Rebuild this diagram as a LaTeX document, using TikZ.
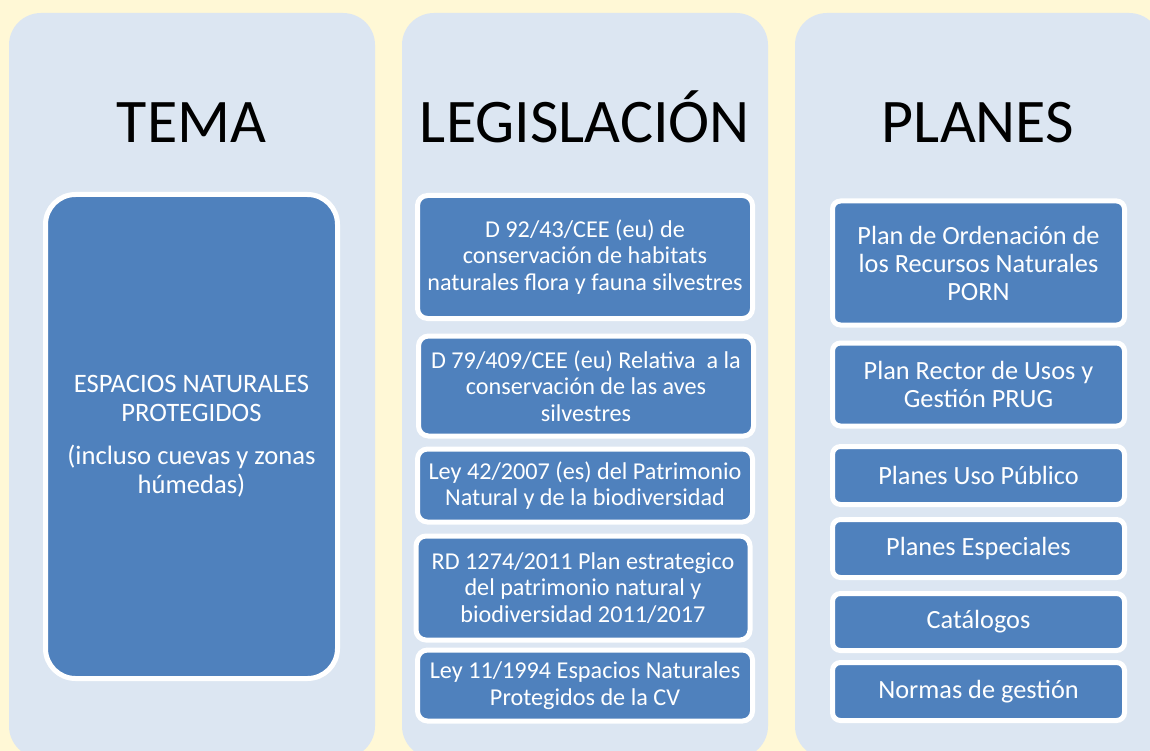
\documentclass[tikz,border=0pt]{standalone}
\usepackage{fontspec}
\setmainfont{Carlito}
\usepackage{tikz}
\usepackage{xcolor}

\definecolor{fondo}{HTML}{FFF8D6}
\definecolor{panel}{HTML}{DCE6F2}
\definecolor{caja}{HTML}{4F81BD}

\begin{document}
\begin{tikzpicture}[x=1pt,y=-1pt]
            \tikzstyle{panelbox}=[fill=panel, rounded corners=32pt, minimum width=366pt, minimum height=745pt, inner sep=0pt]
            \tikzstyle{titulo}=[anchor=base, font=\fontsize{62}{70}\selectfont, inner sep=0pt]
            \tikzstyle{leybox}=[draw=white, line width=5pt, fill=caja, text=white, rounded corners=10pt, align=center, minimum width=335pt, inner sep=0pt, font=\fontsize{24.2}{26.5}\selectfont]
            \tikzstyle{planbox}=[leybox, rounded corners=8pt, minimum width=292pt, font=\fontsize{26.3}{28}\selectfont]
            \useasboundingbox (0,0) rectangle (1150,751);
            \clip (0,0) rectangle (1150,751);
            \fill [fondo] (0,0) rectangle (1150,751);
            % Columnas
            \node [panelbox] (pa) at (192,385.5) {};
            \node [panelbox] (pb) at (585,385.5) {};
            \node [panelbox] (pc) at (978,385.5) {};
            \node [titulo] (tema) at (191.5,143) {TEMA};
            \node [titulo] (leg) at (585,143) {LEGISLACIÓN};
            \node [titulo] (plan) at (978,143) {PLANES};
            % Tema
            \node [leybox, rounded corners=30pt, minimum width=292pt, minimum height=484pt, font=\fontsize{26.6}{29}\selectfont] (t1) at (191.5,436.5)
                {ESPACIOS NATURALES\\PROTEGIDOS\\[14pt](incluso cuevas y zonas\\húmedas)};
            % Legislacion
            \node [leybox, minimum height=123pt] (l1) at (585,257)
                {D 92/43/CEE (eu) de\\conservación de habitats\\naturales flora y fauna silvestres};
            \node [leybox, minimum height=100pt] (l2) at (586,386)
                {D 79/409/CEE (eu) Relativa\ \ a la\\conservación de las aves\\silvestres};
            \node [leybox, minimum height=73pt] (l3) at (585,485.5)
                {Ley 42/2007 (es) del Patrimonio\\Natural y de la biodiversidad};
            \node [leybox, minimum width=334pt, minimum height=104pt] (l4) at (583,588)
                {RD 1274/2011 Plan estrategico\\del patrimonio natural y\\biodiversidad 2011/2017};
            \node [leybox, minimum height=71pt] (l5) at (585,685.5)
                {Ley 11/1994 Espacios Naturales\\Protegidos de la CV};
            % Planes
            \node [planbox, minimum height=124pt] (p1) at (978.5,263)
                {Plan de Ordenación de\\los Recursos Naturales\\PORN};
            \node [planbox, minimum height=83pt] (p2) at (978.5,384.5)
                {Plan Rector de Usos y\\Gestión PRUG};
            \node [planbox, minimum height=58pt] (p3) at (978.5,475.5) {Planes Uso Público};
            \node [planbox, minimum height=58pt] (p4) at (978.5,548.5) {Planes Especiales};
            \node [planbox, minimum height=57pt] (p5) at (978.5,622) {Catálogos};
            \node [planbox, minimum height=58pt] (p6) at (978.5,691.5) {Normas de gestión};
        \end{tikzpicture}
\end{document}
